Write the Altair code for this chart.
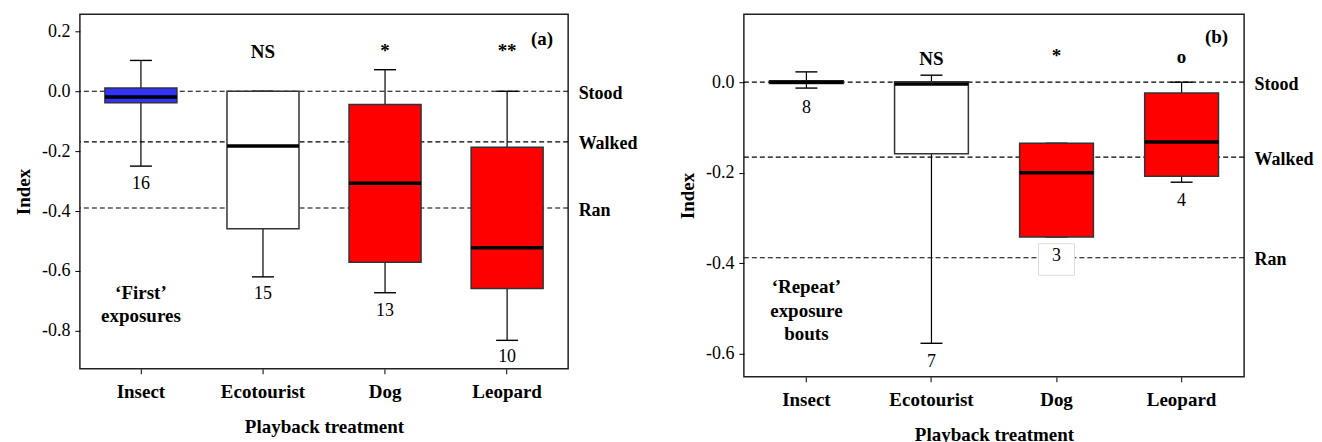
import altair as alt
import pandas as pd

cats = ["Insect", "Ecotourist", "Dog", "Leopard"]
level_names = ["Stood", "Walked", "Ran"]

# ---------- panel (a): 'First' exposures ----------
a_fill = ["#3333FF", "#FFFFFF", "#FF0000", "#FF0000"]
a_wlo = [-0.250, -0.620, -0.673, -0.832]
a_q1 = [-0.038, -0.459, -0.571, -0.659]
a_med = [-0.019, -0.183, -0.307, -0.523]
a_q3 = [0.011, 0.000, -0.044, -0.187]
a_whi = [0.103, 0.000, 0.072, 0.000]
a_n = ["16", "15", "13", "10"]
a_n_y = [-0.309, -0.678, -0.733, -0.889]
a_sig = ["", "NS", "*", "**"]
a_sig_y = [0.0, 0.130, 0.135, 0.135]
a_levels = [0.0, -0.169, -0.390]
a_desc = ["\u2018First\u2019", "exposures"]
a_desc_y = [-0.674, -0.750]
a_letter = "(a)"
a_letter_y = 0.174
a_ticks = [0.2, 0.0, -0.2, -0.4, -0.6, -0.8]
a_domain = [-0.927, 0.257]

# ---------- panel (b): 'Repeat' exposure bouts ----------
b_fill = ["#FFFFFF", "#FFFFFF", "#FF0000", "#FF0000"]
b_wlo = [-0.013, -0.577, -0.342, -0.221]
b_q1 = [-0.003, -0.158, -0.342, -0.208]
b_med = [0.000, -0.004, -0.200, -0.132]
b_q3 = [0.003, 0.001, -0.135, -0.0236]
b_whi = [0.0228, 0.0155, -0.135, 0.000]
b_n = ["8", "7", "3", "4"]
b_n_y = [-0.057, -0.6175, -0.384, -0.263]
b_sig = ["", "NS", "*", "o"]
b_sig_y = [0.0, 0.052, 0.058, 0.055]
b_levels = [0.0, -0.1656, -0.388]
b_desc = ["\u2018Repeat\u2019", "exposure", "bouts"]
b_desc_y = [-0.4525, -0.5055, -0.557]
b_letter = "(b)"
b_letter_y = 0.100
b_ticks = [0.0, -0.2, -0.4, -0.6]
b_domain = [-0.651, 0.150]
# white label box behind the "3"
b_nbox_cat = ["Dog"]
b_nbox_lo = [-0.4267]
b_nbox_hi = [-0.357]

FONT = "Liberation Serif"


def panel(fill, wlo, q1, med, q3, whi, n, n_y, sig, sig_y, levels, desc, desc_y,
          letter, letter_y, ticks, domain, width, height, box_px, nbox=None):
    boxes = pd.DataFrame({"cat": cats, "fill": fill, "wlo": wlo, "q1": q1, "med": med,
                          "q3": q3, "whi": whi, "n": n, "n_y": n_y})
    sig_df = pd.DataFrame({"cat": cats, "sig": sig, "y": sig_y})
    sig_df = sig_df[sig_df["sig"] != ""]
    lev_df = pd.DataFrame({"v": levels, "name": level_names})
    desc_df = pd.DataFrame({"cat": [cats[0]] * len(desc), "t": desc, "y": desc_y})
    let_df = pd.DataFrame({"cat": [cats[-1]], "t": [letter], "y": [letter_y]})

    xs = alt.Scale(type="band", domain=cats, paddingInner=0, paddingOuter=0)
    ys = alt.Scale(domain=domain, nice=False, zero=False)
    x_axis = alt.Axis(labelFontSize=19, labelFontWeight="bold", labelAngle=0,
                      tickSize=5, labelPadding=9, titleFontSize=19,
                      titleFontWeight="bold", titlePadding=16, domain=False)

    def X():
        return alt.X("cat:N", scale=xs, sort=cats, axis=x_axis, title="Playback treatment")

    def Y(field, axis=None, title=None):
        if axis is None:
            return alt.Y(field, scale=ys, axis=None)
        return alt.Y(field, scale=ys, axis=axis, title=title)

    left_axis = alt.Axis(values=ticks, tickSize=5, labelPadding=5, labelFontSize=18,
                         labelExpr="datum.value < 0 ? '-' + format(-datum.value, '.1f') : format(datum.value, '.1f')",
                         titleFontSize=19, titleFontWeight="bold", titlePadding=8,
                         domain=False, grid=False, labelFlush=False, labelOverlap=False)
    parts = [f"abs(datum.value - ({v})) < 0.001 ? '{nm}'" for v, nm in zip(levels, level_names)]
    lev_expr = " : ".join(parts) + " : ''"
    right_axis = alt.Axis(orient="right", values=levels, ticks=False, domain=False, grid=False,
                          labelExpr=lev_expr, labelFontSize=18, labelFontWeight="bold",
                          labelPadding=10, labelOffset=2, labelFlush=False,
                          labelOverlap=False, labelBound=False, title=None)

    rules = alt.Chart(lev_df).mark_rule(color="black", strokeDash=[5, 3], strokeWidth=1.2).encode(
        y=alt.Y("v:Q", scale=ys, axis=right_axis, title=None))
    whisk = alt.Chart(boxes).mark_rule(color="black", strokeWidth=1.2).encode(
        x=X(), y=Y("wlo:Q", left_axis, "Index"), y2="whi:Q")
    cap_lo = alt.Chart(boxes).mark_tick(color="black", size=22, thickness=1.4, opacity=1).encode(
        x=X(), y=Y("wlo:Q"))
    cap_hi = alt.Chart(boxes).mark_tick(color="black", size=22, thickness=1.4, opacity=1).encode(
        x=X(), y=Y("whi:Q"))
    box = alt.Chart(boxes).mark_bar(width=alt.RelativeBandSize(0.59), stroke="#333333",
                                    strokeWidth=1.5, opacity=1).encode(
        x=X(), y=Y("q1:Q"), y2="q3:Q", fill=alt.Fill("fill:N", scale=None))
    medl = alt.Chart(boxes).mark_tick(color="black", size=box_px, thickness=3.5, opacity=1).encode(
        x=X(), y=Y("med:Q"))
    layers = [rules, whisk, cap_lo, cap_hi, box, medl]
    if nbox is not None:
        nb_df = pd.DataFrame({"cat": nbox[0], "lo": nbox[1], "hi": nbox[2]})
        layers.append(alt.Chart(nb_df).mark_bar(width=36, fill="white", stroke="#dddddd",
                                                strokeWidth=1).encode(
            x=X(), y=Y("lo:Q"), y2="hi:Q"))
    ntext = alt.Chart(boxes).mark_text(fontSize=18, baseline="middle", color="black").encode(
        x=X(), y=Y("n_y:Q"), text="n:N")
    stext = alt.Chart(sig_df).mark_text(fontSize=19, fontWeight="bold", baseline="middle",
                                        color="black").encode(
        x=X(), y=Y("y:Q"), text="sig:N")
    ltext = alt.Chart(let_df).mark_text(fontSize=19, fontWeight="bold", baseline="middle",
                                        dx=35, color="black").encode(
        x=X(), y=Y("y:Q"), text="t:N")
    dtext = alt.Chart(desc_df).mark_text(fontSize=19, fontWeight="bold", baseline="middle",
                                         color="black").encode(
        x=X(), y=Y("y:Q"), text="t:N")
    layers += [ntext, stext, ltext, dtext]
    return alt.layer(*layers).resolve_axis(y="independent").properties(width=width, height=height)


pa = panel(a_fill, a_wlo, a_q1, a_med, a_q3, a_whi, a_n, a_n_y, a_sig, a_sig_y, a_levels,
           a_desc, a_desc_y, a_letter, a_letter_y, a_ticks, a_domain, 489, 355, 72)
pb = panel(b_fill, b_wlo, b_q1, b_med, b_q3, b_whi, b_n, b_n_y, b_sig, b_sig_y, b_levels,
           b_desc, b_desc_y, b_letter, b_letter_y, b_ticks, b_domain, 501, 363, 74,
           nbox=(b_nbox_cat, b_nbox_lo, b_nbox_hi))

chart = alt.hconcat(pa, pb, spacing=176, bounds="flush").properties(
    padding={"left": 5, "top": 5, "right": 0, "bottom": 0}
).configure(font=FONT).configure_view(stroke="#222222", strokeWidth=1.5).configure_axis(
    labelFont=FONT, titleFont=FONT, labelColor="black", titleColor="black",
    tickColor="black", tickWidth=1, grid=False
).configure_text(font=FONT)

chart.save("out.html", embed_options={"renderer": "svg", "actions": False})
